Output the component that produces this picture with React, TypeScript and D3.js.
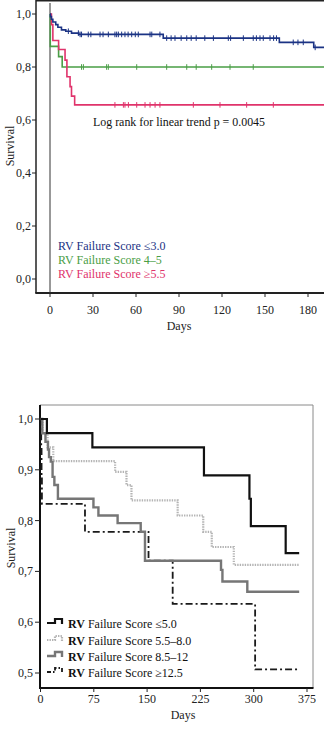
import React from "react";
import * as d3 from "d3";

// ---------- Top chart data ----------
const topXTicks = [0, 30, 60, 90, 120, 150, 180];
const topYTicks = [0, 0.2, 0.4, 0.6, 0.8, 1.0];
const topEnd = 192;

const blueTimes = [0, 0.3, 1, 2, 4, 5.5, 8, 11, 15, 20, 79, 160, 184];
const blueSurv = [1.0, 0.99, 0.98, 0.97, 0.96, 0.95, 0.94, 0.935, 0.928, 0.923, 0.909, 0.893, 0.874];
const blueCensor = [12.8, 19.8, 21, 22, 26.7, 28.5, 34.9, 37, 40.7, 45.3, 46.5, 47.7, 50, 52.3, 54.5, 57, 59.5, 61.6, 69.8, 71, 76.7, 81.4, 84.5, 87.2, 91.5, 95.4, 98.5, 102, 108, 114, 124.4, 126, 134.9, 141.8, 144, 146.5, 148.8, 153.5, 156, 158, 169.7, 173, 176.7, 185];

const greenTimes = [0, 0.2, 6, 8.5];
const greenSurv = [1.0, 0.878, 0.839, 0.8];
const greenCensor = [22, 23.3, 39.5, 40.7, 60.5, 81.4, 95.4, 102, 112.8, 125.6, 141.8];

const redTimes = [0, 1, 2, 6, 10.5, 11.8, 14, 15, 17.2];
const redSurv = [1.0, 0.96, 0.9, 0.866, 0.826, 0.763, 0.726, 0.69, 0.657];
const redCensor = [45.3, 51.2, 52.3, 54.7, 60.5, 66.3, 69.8, 73.3, 76.7, 100, 118.6, 137.2, 155.8];

const topLegend = ["RV Failure Score  \u22643.0", "RV Failure Score 4\u20135", "RV Failure Score \u22655.5"];
const topColors = ["#1b3384", "#4a9e46", "#e0336b"];

// ---------- Bottom chart data ----------
const botXTicks = [0, 75, 150, 225, 300, 375];
const botYTicks = [0.5, 0.6, 0.7, 0.8, 0.9, 1.0];

const s1Times = [0, 9, 73, 230, 294, 296, 345];
const s1Surv = [1.0, 0.972, 0.944, 0.889, 0.843, 0.789, 0.736];
const s1End = 364;

const s2Times = [0, 3, 10, 18, 105, 121, 128, 193, 229, 241, 272];
const s2Surv = [1.0, 0.972, 0.944, 0.917, 0.896, 0.87, 0.84, 0.81, 0.778, 0.748, 0.713];
const s2End = 364;

const s3Times = [0, 2.5, 7, 10.5, 12, 14.5, 17, 19.5, 24.5, 74.5, 81.5, 108.5, 141, 147, 254, 256, 291];
const s3Surv = [1.0, 0.972, 0.955, 0.94, 0.925, 0.916, 0.886, 0.87, 0.843, 0.826, 0.81, 0.795, 0.778, 0.721, 0.703, 0.68, 0.66];
const s3End = 364;

const s4Times = [0, 1, 1.5, 2, 62.6, 152, 186, 302];
const s4Surv = [1.0, 0.944, 0.889, 0.833, 0.778, 0.721, 0.636, 0.507];
const s4End = 361;

const botLegend = ["Failure Score \u22645.0", "Failure Score 5.5\u20138.0", "Failure Score 8.5\u201312", "Failure Score \u226512.5"];

const FONT = "'Liberation Serif', 'Times New Roman', serif";

function toPts(times: number[], surv: number[], end: number) {
  const pts = times.map((t, i) => [t, surv[i]] as [number, number]);
  pts.push([end, surv[surv.length - 1]]);
  return pts;
}
function survAt(times: number[], surv: number[], t: number) {
  let v = surv[0];
  for (let i = 0; i < times.length; i++) if (times[i] <= t) v = surv[i];
  return v;
}
const comma = (v: number) => d3.format(".1f")(v).replace(".", ",");

export default function App() {
  const xT = d3.scaleLinear().domain([0, 180]).range([50, 308]);
  const yT = d3.scaleLinear().domain([0, 1]).range([279, 14]);
  const lineT = d3.line<[number, number]>().x(d => xT(d[0])).y(d => yT(d[1])).curve(d3.curveStepAfter);

  const xB = d3.scaleLinear().domain([0, 375]).range([40.5, 307]);
  const yB = d3.scaleLinear().domain([0.5, 1]).range([673, 419]);
  const lineB = d3.line<[number, number]>().x(d => xB(d[0])).y(d => yB(d[1])).curve(d3.curveStepAfter);

  const topSeries = [
    { times: greenTimes, surv: greenSurv, censor: greenCensor, color: topColors[1] },
    { times: redTimes, surv: redSurv, censor: redCensor, color: topColors[2] },
    { times: blueTimes, surv: blueSurv, censor: blueCensor, color: topColors[0] },
  ];

  const botSeries = [
    { pts: toPts(s2Times, s2Surv, s2End), color: "#b4b4b4", width: 2.2, dash: "1.4,1.1" },
    { pts: toPts(s4Times, s4Surv, s4End), color: "#1a1a1a", width: 1.8, dash: "7,3,2,3" },
    { pts: toPts(s3Times, s3Surv, s3End), color: "#767676", width: 2.4, dash: undefined },
    { pts: toPts(s1Times, s1Surv, s1End), color: "#111111", width: 2.2, dash: undefined },
  ];
  const legendStyles = [
    { color: "#111111", width: 2.2, dash: undefined },
    { color: "#b4b4b4", width: 2.2, dash: "1.4,1.1" },
    { color: "#767676", width: 2.4, dash: undefined },
    { color: "#1a1a1a", width: 1.8, dash: "4,2,1.5,2" },
  ];
  const legendY = [624, 641, 657, 673];

  return (
    <svg width={324} height={729} style={{ position: "absolute", left: 0, top: 0, background: "#fff" }} fontFamily={FONT}>
      <rect x={0} y={0} width={324} height={729} fill="#fff" />
      {/* ---------- TOP CHART ---------- */}
      <g>
        <line x1={36} x2={324} y1={0.75} y2={0.75} stroke="#222" strokeWidth={1.5} />
        <line x1={36} x2={36} y1={0} y2={293} stroke="#222" strokeWidth={1.5} />
        <line x1={35.3} x2={324} y1={293} y2={293} stroke="#222" strokeWidth={2} />
        <line x1={xT(0)} x2={xT(0)} y1={3} y2={293} stroke="#333" strokeWidth={1} />
        {topYTicks.map(v => (
          <g key={v}>
            <line x1={32} x2={36} y1={yT(v)} y2={yT(v)} stroke="#222" strokeWidth={1} />
            <text x={31} y={yT(v) + 4} fontSize={12} textAnchor="end" fill="#222">{comma(v)}</text>
          </g>
        ))}
        {topXTicks.map(v => (
          <g key={v}>
            <line x1={xT(v)} x2={xT(v)} y1={293} y2={297} stroke="#222" strokeWidth={1} />
            <text x={xT(v)} y={314} fontSize={12} textAnchor="middle" fill="#222">{v}</text>
          </g>
        ))}
        <text x={179} y={330} fontSize={12} textAnchor="middle" fill="#222">Days</text>
        <text transform="translate(14,146) rotate(-90)" fontSize={12} textAnchor="middle" fill="#222">Survival</text>

        {topSeries.map((s, i) => (
          <g key={i}>
            <path d={lineT(toPts(s.times, s.surv, topEnd)) || ""} fill="none" stroke={s.color} strokeWidth={1.6} />
            {s.censor.map((c, j) => {
              const y = yT(survAt(s.times, s.surv, c));
              return <line key={j} x1={xT(c)} x2={xT(c)} y1={y - 2.8} y2={y + 2.8} stroke={s.color} strokeWidth={1} />;
            })}
          </g>
        ))}

        <text x={93} y={126} fontSize={12} fill="#111" textLength={172} lengthAdjust="spacingAndGlyphs">Log rank for linear trend p = 0.0045</text>
        {topLegend.map((t, i) => (
          <text key={i} x={58} y={250 + i * 14} fontSize={12} fill={topColors[i]}>{t}</text>
        ))}
      </g>

      {/* ---------- BOTTOM CHART ---------- */}
      <g>
        <line x1={40} x2={313} y1={405} y2={405} stroke="#8a8a8a" strokeWidth={1} />
        <line x1={313} x2={313} y1={405} y2={688} stroke="#8a8a8a" strokeWidth={1} />
        <line x1={40} x2={40} y1={405} y2={689} stroke="#111" strokeWidth={2} />
        <line x1={39} x2={313.5} y1={688} y2={688} stroke="#111" strokeWidth={2} />
        {botYTicks.map(v => (
          <g key={v}>
            <line x1={35} x2={40} y1={yB(v)} y2={yB(v)} stroke="#222" strokeWidth={1} />
            <text x={33} y={yB(v) + 4} fontSize={12} textAnchor="end" fill="#222">{comma(v)}</text>
          </g>
        ))}
        {botXTicks.map(v => (
          <g key={v}>
            <line x1={xB(v)} x2={xB(v)} y1={688} y2={692} stroke="#222" strokeWidth={1} />
            <text x={xB(v)} y={703} fontSize={12} textAnchor="middle" fill="#222">{v}</text>
          </g>
        ))}
        <text x={183} y={719} fontSize={12} textAnchor="middle" fill="#222">Days</text>
        <text transform="translate(15,548) rotate(-90)" fontSize={12} textAnchor="middle" fill="#222">Survival</text>

        {botSeries.map((s, i) => (
          <path key={i} d={lineB(s.pts) || ""} fill="none" stroke={s.color} strokeWidth={s.width} strokeDasharray={s.dash} />
        ))}

        {botLegend.map((t, i) => {
          const y = legendY[i];
          const st = legendStyles[i];
          return (
            <g key={i}>
              <path d={`M47,${y - 1} H55 V${y - 5} H62 V${y}`} fill="none" stroke={st.color} strokeWidth={st.width} strokeDasharray={st.dash} />
              <text x={68} y={y + 3.5} fontSize={12} fill="#111">
                <tspan fontWeight="bold">RV</tspan> {t}
              </text>
            </g>
          );
        })}
      </g>
    </svg>
  );
}
